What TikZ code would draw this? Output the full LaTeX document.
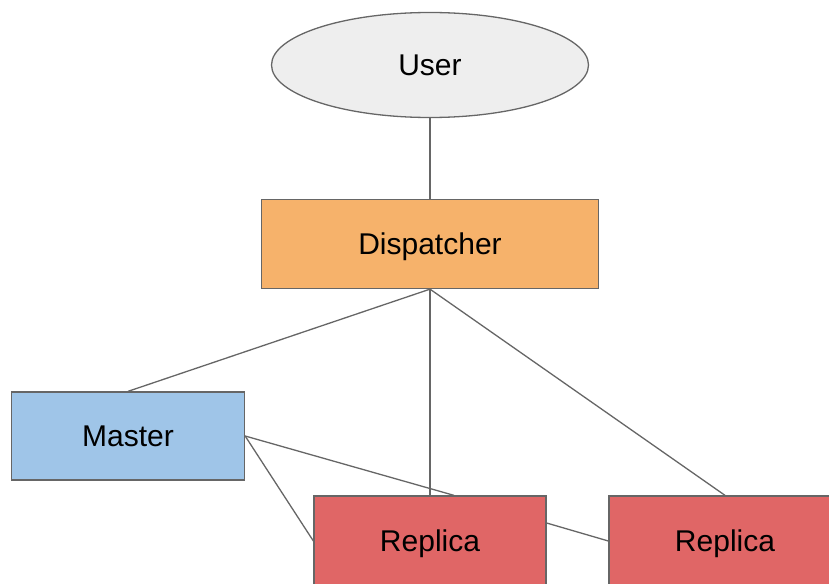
\documentclass[tikz,border=0pt]{standalone}
\usepackage{fontspec}
\setmainfont{Liberation Sans}
\usetikzlibrary{shapes.geometric}
\definecolor{linegrey}{HTML}{666666}
\definecolor{userfill}{HTML}{EEEEEE}
\definecolor{dispfill}{HTML}{F6B26B}
\definecolor{masterfill}{HTML}{9FC5E8}
\definecolor{replicafill}{HTML}{E06666}
\begin{document}
\begin{tikzpicture}[x=1pt, y=-1pt,
  shapebase/.style={draw=linegrey, line width=1.3pt, inner sep=0pt,
    font=\fontsize{30}{36}\selectfont, text height=21.5pt, text depth=0pt},
  box/.style={shapebase, rectangle},
  link/.style={draw=linegrey, line width=1.3pt}]
\useasboundingbox (0,0) rectangle (829,583);
\node[shapebase, ellipse, fill=userfill, minimum width=317pt, minimum height=105pt] (user) at (430,65) {User};
\node[box, fill=dispfill, minimum width=337pt, minimum height=89pt] (disp) at (430,244) {Dispatcher};
\node[box, fill=masterfill, minimum width=233pt, minimum height=88pt] (master) at (128,436) {Master};
\node[box, fill=replicafill, minimum width=232pt, minimum height=90pt] (r1) at (430,541) {Replica};
\node[box, fill=replicafill, minimum width=232pt, minimum height=90pt] (r2) at (725,541) {Replica};
% connections
\draw[link] (user.south) -- (disp.north);
\draw[link] (disp.south) -- (master.north);
\draw[link] (disp.south) -- (r1.north);
\draw[link] (disp.south) -- (r2.north);
\draw[link] (master.east) -- ([xshift=24pt]r1.north);
\draw[link] (master.east) -- (r1.west);
\draw[link] ([yshift=18pt]r1.east) -- (r2.west);
\end{tikzpicture}
\end{document}
